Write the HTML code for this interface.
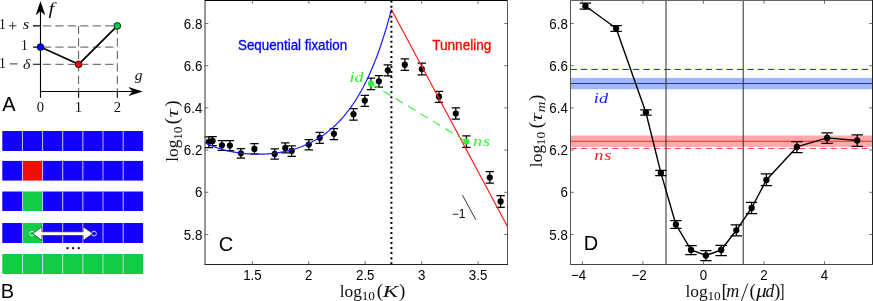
<!DOCTYPE html>
<html><head><meta charset="utf-8"><title>figure</title>
<style>html,body{margin:0;padding:0;background:#fff;}body{width:873px;height:301px;overflow:hidden;font-family:"Liberation Sans",sans-serif;}svg{display:block;will-change:transform}</style>
</head><body>
<svg width="873" height="301" viewBox="0 0 873 301">
<rect width="873" height="301" fill="#fff"/>
<path d="M42.9 25.9H117.3M42.9 47.1H117.3M42.9 64.3H117.3" stroke="#444" stroke-width="0.9" stroke-dasharray="8.2 4.25" fill="none"/>
<path d="M78.6 25.9V91.5M117.3 25.9V91.5" stroke="#444" stroke-width="0.9" stroke-dasharray="8.2 4.25" fill="none"/>
<path d="M40.5 97.8V8M40.5 91.5H134M33 25.9H40.5M33 47.1H40.5M33 64.3H40.5M78.6 91.5V97.8M117.3 91.5V97.8" stroke="#000" stroke-width="1.1" fill="none"/>
<path d="M40.5 1L45.3 15.2L40.5 11.2L35.7 15.2Z" fill="#000"/>
<path d="M142.8 91.5L128.4 96L132.4 91.5L128.4 87Z" fill="#000"/>
<path d="M40.5 47.1L78.6 64.3L117.3 25.9" stroke="#000" stroke-width="1.7" fill="none" stroke-linejoin="round"/>
<circle cx="40.5" cy="47.1" r="3.4" fill="#0000ff" stroke="#000" stroke-width="0.8"/>
<circle cx="78.6" cy="64.3" r="3.4" fill="#ff0000" stroke="#000" stroke-width="0.8"/>
<circle cx="117.3" cy="25.9" r="3.4" fill="#00cc44" stroke="#000" stroke-width="0.8"/>
<g fill="#111">
<text x="-1.00" y="28.90" font-family="Liberation Serif, serif" font-size="13.6">1</text>
<text transform="translate(22.80 28.90) scale(1.15 1)" font-family="Liberation Serif, serif" font-style="italic" font-size="14.5">s</text>
<text x="21.10" y="49.90" font-family="Liberation Serif, serif" font-size="13.6">1</text>
<text x="-1.00" y="67.90" font-family="Liberation Serif, serif" font-size="13.6">1</text>
<text transform="translate(23.04 68.50) scale(1.1 1)" font-family="Liberation Serif, serif" font-style="italic" font-size="14.5">δ</text>
<text x="40.4" y="112" text-anchor="middle" font-family="Liberation Serif, serif" font-size="14.6">0</text>
<text x="78.5" y="112" text-anchor="middle" font-family="Liberation Serif, serif" font-size="14.6">1</text>
<text x="117.4" y="112" text-anchor="middle" font-family="Liberation Serif, serif" font-size="14.6">2</text>
<text transform="translate(48.57 13.60) scale(1.3 1)" font-family="Liberation Serif, serif" font-style="italic" font-size="16">f</text>
<text x="134.78" y="79.70" font-family="Liberation Serif, serif" font-style="italic" font-size="15.5">g</text>
</g>
<path d="M8.9 25.8H16.5M12.7 22V29.6M9.9 63.9H17.6" stroke="#222" stroke-width="0.9" fill="none"/>
<text x="2.16" y="110.80" font-family="Liberation Sans, sans-serif" font-size="20" fill="#000">A</text>
<rect x="2.30" y="131" width="20.14" height="20" fill="#1400ff"/>
<rect x="22.44" y="131" width="20.14" height="20" fill="#1400ff"/>
<rect x="42.58" y="131" width="20.14" height="20" fill="#1400ff"/>
<rect x="62.72" y="131" width="20.14" height="20" fill="#1400ff"/>
<rect x="82.86" y="131" width="20.14" height="20" fill="#1400ff"/>
<rect x="103.00" y="131" width="20.14" height="20" fill="#1400ff"/>
<rect x="123.14" y="131" width="19.96" height="20" fill="#1400ff"/>
<rect x="21.94" y="131" width="1" height="20" fill="#d8d4ff" opacity="0.85"/>
<rect x="42.08" y="131" width="1" height="20" fill="#d8d4ff" opacity="0.85"/>
<rect x="62.22" y="131" width="1" height="20" fill="#d8d4ff" opacity="0.85"/>
<rect x="82.36" y="131" width="1" height="20" fill="#d8d4ff" opacity="0.85"/>
<rect x="102.50" y="131" width="1" height="20" fill="#d8d4ff" opacity="0.85"/>
<rect x="122.64" y="131" width="1" height="20" fill="#d8d4ff" opacity="0.85"/>
<rect x="2.30" y="160.9" width="20.14" height="19.69999999999999" fill="#1400ff"/>
<rect x="22.44" y="160.9" width="20.14" height="19.69999999999999" fill="#ee1100"/>
<rect x="42.58" y="160.9" width="20.14" height="19.69999999999999" fill="#1400ff"/>
<rect x="62.72" y="160.9" width="20.14" height="19.69999999999999" fill="#1400ff"/>
<rect x="82.86" y="160.9" width="20.14" height="19.69999999999999" fill="#1400ff"/>
<rect x="103.00" y="160.9" width="20.14" height="19.69999999999999" fill="#1400ff"/>
<rect x="123.14" y="160.9" width="19.96" height="19.69999999999999" fill="#1400ff"/>
<rect x="21.94" y="160.9" width="1" height="19.69999999999999" fill="#d8d4ff" opacity="0.85"/>
<rect x="42.08" y="160.9" width="1" height="19.69999999999999" fill="#d8d4ff" opacity="0.85"/>
<rect x="62.22" y="160.9" width="1" height="19.69999999999999" fill="#d8d4ff" opacity="0.85"/>
<rect x="82.36" y="160.9" width="1" height="19.69999999999999" fill="#d8d4ff" opacity="0.85"/>
<rect x="102.50" y="160.9" width="1" height="19.69999999999999" fill="#d8d4ff" opacity="0.85"/>
<rect x="122.64" y="160.9" width="1" height="19.69999999999999" fill="#d8d4ff" opacity="0.85"/>
<rect x="2.30" y="191.5" width="20.14" height="19.5" fill="#1400ff"/>
<rect x="22.44" y="191.5" width="20.14" height="19.5" fill="#11cc44"/>
<rect x="42.58" y="191.5" width="20.14" height="19.5" fill="#1400ff"/>
<rect x="62.72" y="191.5" width="20.14" height="19.5" fill="#1400ff"/>
<rect x="82.86" y="191.5" width="20.14" height="19.5" fill="#1400ff"/>
<rect x="103.00" y="191.5" width="20.14" height="19.5" fill="#1400ff"/>
<rect x="123.14" y="191.5" width="19.96" height="19.5" fill="#1400ff"/>
<rect x="21.94" y="191.5" width="1" height="19.5" fill="#d8d4ff" opacity="0.85"/>
<rect x="42.08" y="191.5" width="1" height="19.5" fill="#d8d4ff" opacity="0.85"/>
<rect x="62.22" y="191.5" width="1" height="19.5" fill="#d8d4ff" opacity="0.85"/>
<rect x="82.36" y="191.5" width="1" height="19.5" fill="#d8d4ff" opacity="0.85"/>
<rect x="102.50" y="191.5" width="1" height="19.5" fill="#d8d4ff" opacity="0.85"/>
<rect x="122.64" y="191.5" width="1" height="19.5" fill="#d8d4ff" opacity="0.85"/>
<rect x="2.30" y="223" width="20.14" height="20" fill="#1400ff"/>
<rect x="22.44" y="223" width="20.14" height="20" fill="#11cc44"/>
<rect x="42.58" y="223" width="20.14" height="20" fill="#1400ff"/>
<rect x="62.72" y="223" width="20.14" height="20" fill="#1400ff"/>
<rect x="82.86" y="223" width="20.14" height="20" fill="#1400ff"/>
<rect x="103.00" y="223" width="20.14" height="20" fill="#1400ff"/>
<rect x="123.14" y="223" width="19.96" height="20" fill="#1400ff"/>
<rect x="21.94" y="223" width="1" height="20" fill="#d8d4ff" opacity="0.85"/>
<rect x="42.08" y="223" width="1" height="20" fill="#d8d4ff" opacity="0.85"/>
<rect x="62.22" y="223" width="1" height="20" fill="#d8d4ff" opacity="0.85"/>
<rect x="82.36" y="223" width="1" height="20" fill="#d8d4ff" opacity="0.85"/>
<rect x="102.50" y="223" width="1" height="20" fill="#d8d4ff" opacity="0.85"/>
<rect x="122.64" y="223" width="1" height="20" fill="#d8d4ff" opacity="0.85"/>
<rect x="2.30" y="254" width="20.14" height="20" fill="#11cc44"/>
<rect x="22.44" y="254" width="20.14" height="20" fill="#11cc44"/>
<rect x="42.58" y="254" width="20.14" height="20" fill="#11cc44"/>
<rect x="62.72" y="254" width="20.14" height="20" fill="#11cc44"/>
<rect x="82.86" y="254" width="20.14" height="20" fill="#11cc44"/>
<rect x="103.00" y="254" width="20.14" height="20" fill="#11cc44"/>
<rect x="123.14" y="254" width="19.96" height="20" fill="#11cc44"/>
<rect x="21.94" y="254" width="1" height="20" fill="#d8d4ff" opacity="0.85"/>
<rect x="42.08" y="254" width="1" height="20" fill="#d8d4ff" opacity="0.85"/>
<rect x="62.22" y="254" width="1" height="20" fill="#d8d4ff" opacity="0.85"/>
<rect x="82.36" y="254" width="1" height="20" fill="#d8d4ff" opacity="0.85"/>
<rect x="102.50" y="254" width="1" height="20" fill="#d8d4ff" opacity="0.85"/>
<rect x="122.64" y="254" width="1" height="20" fill="#d8d4ff" opacity="0.85"/>
<circle cx="32.0" cy="233.6" r="2.3" fill="none" stroke="#e8e8ff" stroke-width="0.9"/>
<circle cx="94.0" cy="233.6" r="2.4" fill="none" stroke="#e8e8ff" stroke-width="0.9"/>
<path d="M32.8 233.6L41.9 226.8V231.8H83.1V226.8L92.8 233.6L83.1 240.6V235.6H41.9V240.6Z" fill="#fff" stroke="#222" stroke-width="0.7" stroke-linejoin="miter"/>
<rect x="66.5" y="247.2" width="2" height="2" fill="#000"/>
<rect x="72.1" y="247.2" width="2" height="2" fill="#000"/>
<rect x="77.7" y="247.2" width="2" height="2" fill="#000"/>
<text x="0.76" y="297.80" font-family="Liberation Sans, sans-serif" font-size="20" fill="#000">B</text>
<clipPath id="cc"><rect x="205.0" y="0.5" width="302.5" height="264.0"/></clipPath>
<path d="M208.9 136.8V147.6M204.7 136.8H213.1M204.7 147.6H213.1" stroke="#000" stroke-width="1.25" fill="none"/><circle cx="208.9" cy="141.8" r="3.1" fill="#000"/>
<path d="M212.6 136.7V145.7M208.4 136.7H216.8M208.4 145.7H216.8" stroke="#000" stroke-width="1.25" fill="none"/><circle cx="212.6" cy="140.9" r="3.1" fill="#000"/>
<path d="M221.9 140.5V150.3M217.7 140.5H226.1M217.7 150.3H226.1" stroke="#000" stroke-width="1.25" fill="none"/><circle cx="221.9" cy="145.3" r="3.1" fill="#000"/>
<path d="M229.9 140.5V150.5M225.7 140.5H234.1M225.7 150.5H234.1" stroke="#000" stroke-width="1.25" fill="none"/><circle cx="229.9" cy="145.5" r="3.1" fill="#000"/>
<path d="M240.9 148.5V158.0M236.7 148.5H245.1M236.7 158.0H245.1" stroke="#000" stroke-width="1.25" fill="none"/><circle cx="240.9" cy="153.3" r="3.1" fill="#000"/>
<path d="M254.4 143.7V153.9M250.2 143.7H258.6M250.2 153.9H258.6" stroke="#000" stroke-width="1.25" fill="none"/><circle cx="254.4" cy="148.9" r="3.1" fill="#000"/>
<path d="M274.7 148.9V159.1M270.5 148.9H278.9M270.5 159.1H278.9" stroke="#000" stroke-width="1.25" fill="none"/><circle cx="274.7" cy="153.9" r="3.1" fill="#000"/>
<path d="M285.3 142.9V152.9M281.1 142.9H289.5M281.1 152.9H289.5" stroke="#000" stroke-width="1.25" fill="none"/><circle cx="285.3" cy="147.9" r="3.1" fill="#000"/>
<path d="M291.7 145.9V156.3M287.5 145.9H295.9M287.5 156.3H295.9" stroke="#000" stroke-width="1.25" fill="none"/><circle cx="291.7" cy="150.9" r="3.1" fill="#000"/>
<path d="M308.8 139.7V149.9M304.6 139.7H313.0M304.6 149.9H313.0" stroke="#000" stroke-width="1.25" fill="none"/><circle cx="308.8" cy="144.6" r="3.1" fill="#000"/>
<path d="M319.7 132.4V143.3M315.5 132.4H323.9M315.5 143.3H323.9" stroke="#000" stroke-width="1.25" fill="none"/><circle cx="319.7" cy="137.8" r="3.1" fill="#000"/>
<path d="M333.9 128.5V139.6M329.7 128.5H338.1M329.7 139.6H338.1" stroke="#000" stroke-width="1.25" fill="none"/><circle cx="333.9" cy="133.8" r="3.1" fill="#000"/>
<path d="M353.5 108.5V120.0M349.3 108.5H357.7M349.3 120.0H357.7" stroke="#000" stroke-width="1.25" fill="none"/><circle cx="353.5" cy="114.2" r="3.1" fill="#000"/>
<path d="M364.8 95.3V106.4M360.6 95.3H369.0M360.6 106.4H369.0" stroke="#000" stroke-width="1.25" fill="none"/><circle cx="364.8" cy="100.6" r="3.1" fill="#000"/>
<path d="M378.9 75.5V87.0M374.7 75.5H383.1M374.7 87.0H383.1" stroke="#000" stroke-width="1.25" fill="none"/><circle cx="378.9" cy="81.3" r="3.1" fill="#000"/>
<path d="M387.8 64.9V75.9M383.6 64.9H392.0M383.6 75.9H392.0" stroke="#000" stroke-width="1.25" fill="none"/><circle cx="387.8" cy="70.3" r="3.1" fill="#000"/>
<path d="M404.8 58.9V70.4M400.6 58.9H409.0M400.6 70.4H409.0" stroke="#000" stroke-width="1.25" fill="none"/><circle cx="404.8" cy="64.7" r="3.1" fill="#000"/>
<path d="M421.8 63.2V74.9M417.6 63.2H426.0M417.6 74.9H426.0" stroke="#000" stroke-width="1.25" fill="none"/><circle cx="421.8" cy="69.0" r="3.1" fill="#000"/>
<path d="M439.0 91.3V102.3M434.8 91.3H443.2M434.8 102.3H443.2" stroke="#000" stroke-width="1.25" fill="none"/><circle cx="439.0" cy="96.7" r="3.1" fill="#000"/>
<path d="M455.8 107.8V119.1M451.6 107.8H460.0M451.6 119.1H460.0" stroke="#000" stroke-width="1.25" fill="none"/><circle cx="455.8" cy="113.5" r="3.1" fill="#000"/>
<path d="M489.8 171.5V183.0M485.6 171.5H494.0M485.6 183.0H494.0" stroke="#000" stroke-width="1.25" fill="none"/><circle cx="489.8" cy="177.5" r="3.1" fill="#000"/>
<path d="M500.6 195.5V207.4M496.4 195.5H504.8M496.4 207.4H504.8" stroke="#000" stroke-width="1.25" fill="none"/><circle cx="500.6" cy="201.4" r="3.1" fill="#000"/>
<path d="M371.0 78.1V89.6M366.8 78.1H375.2M366.8 89.6H375.2" stroke="#000" stroke-width="1.25" fill="none"/><circle cx="371.0" cy="83.6" r="3.1" fill="#33ee33"/>
<path d="M466.4 135.9V147.3M462.2 135.9H470.6M462.2 147.3H470.6" stroke="#000" stroke-width="1.25" fill="none"/><circle cx="466.4" cy="141.5" r="3.1" fill="#33ee33"/>
<g clip-path="url(#cc)">
<path d="M203.9 141.9L204.8 142.4L205.8 142.9L206.7 143.4L207.6 143.8L208.6 144.3L209.5 144.7L210.5 145.1L211.4 145.5L212.4 145.9L213.3 146.3L214.2 146.7L215.2 147.1L216.1 147.4L217.1 147.7L218.0 148.1L219.0 148.4L219.9 148.7L220.8 149.0L221.8 149.3L222.7 149.6L223.7 149.8L224.6 150.1L225.6 150.3L226.5 150.5L227.4 150.8L228.4 151.0L229.3 151.2L230.3 151.4L231.2 151.6L232.1 151.7L233.1 151.9L234.0 152.1L235.0 152.2L235.9 152.4L236.9 152.5L237.8 152.7L238.7 152.8L239.7 153.0L240.6 153.1L241.6 153.2L242.5 153.3L243.5 153.4L244.4 153.5L245.3 153.6L246.3 153.7L247.2 153.8L248.2 153.8L249.1 153.9L250.1 154.0L251.0 154.0L251.9 154.1L252.9 154.1L253.8 154.1L254.8 154.2L255.7 154.2L256.7 154.2L257.6 154.2L258.5 154.2L259.5 154.2L260.4 154.2L261.4 154.2L262.3 154.2L263.3 154.1L264.2 154.1L265.1 154.1L266.1 154.0L267.0 153.9L268.0 153.9L268.9 153.8L269.8 153.7L270.8 153.6L271.7 153.6L272.7 153.5L273.6 153.4L274.6 153.2L275.5 153.1L276.4 153.0L277.4 152.9L278.3 152.7L279.3 152.6L280.2 152.4L281.2 152.2L282.1 152.1L283.0 151.9L284.0 151.7L284.9 151.5L285.9 151.3L286.8 151.1L287.8 150.9L288.7 150.6L289.6 150.4L290.6 150.2L291.5 149.9L292.5 149.6L293.4 149.4L294.4 149.1L295.3 148.8L296.2 148.5L297.2 148.2L298.1 147.9L299.1 147.5L300.0 147.2L301.0 146.8L301.9 146.5L302.8 146.1L303.8 145.7L304.7 145.3L305.7 144.9L306.6 144.5L307.5 144.1L308.5 143.7L309.4 143.2L310.4 142.8L311.3 142.3L312.3 141.8L313.2 141.3L314.1 140.8L315.1 140.3L316.0 139.7L317.0 139.2L317.9 138.6L318.9 138.0L319.8 137.4L320.7 136.8L321.7 136.2L322.6 135.5L323.6 134.9L324.5 134.2L325.5 133.5L326.4 132.8L327.3 132.1L328.3 131.4L329.2 130.6L330.2 129.8L331.1 129.0L332.1 128.2L333.0 127.4L333.9 126.5L334.9 125.7L335.8 124.8L336.8 123.8L337.7 122.9L338.7 121.9L339.6 121.0L340.5 120.0L341.5 118.9L342.4 117.9L343.4 116.8L344.3 115.7L345.2 114.6L346.2 113.4L347.1 112.2L348.1 111.0L349.0 109.8L350.0 108.5L350.9 107.2L351.8 105.9L352.8 104.5L353.7 103.1L354.7 101.7L355.6 100.2L356.6 98.7L357.5 97.2L358.4 95.6L359.4 94.0L360.3 92.4L361.3 90.7L362.2 89.0L363.2 87.2L364.1 85.4L365.0 83.6L366.0 81.7L366.9 79.7L367.9 77.8L368.8 75.7L369.8 73.7L370.7 71.5L371.6 69.4L372.6 67.1L373.5 64.9L374.5 62.5L375.4 60.1L376.4 57.7L377.3 55.2L378.2 52.6L379.2 50.0L380.1 47.3L381.1 44.5L382.0 41.7L382.9 38.8L383.9 35.9L384.8 32.8L385.8 29.7L386.7 26.6L387.7 23.3L388.6 20.0L389.5 16.6L390.5 13.1L391.4 9.5" stroke="#1a1aff" stroke-width="1.2" fill="none"/>
<path d="M391.4 9.5L509.5 230.3" stroke="#ff1a1a" stroke-width="1.2" fill="none"/>
<path d="M370.9 83.5L466.4 141.5" stroke="#33ee33" stroke-width="1.1" stroke-dasharray="8.5 6" fill="none"/>
<path d="M391.4 0.6V264.5" stroke="#000" stroke-width="2" stroke-dasharray="2 3.03" fill="none"/>
</g>
<path d="M205.0 0V264.5" stroke="#303030" stroke-width="1" fill="none"/>
<path d="M205.0 0.5H508.0" stroke="#000" stroke-width="1" fill="none"/>
<path d="M507.5 0V264.5" stroke="#5a5a5a" stroke-width="1" fill="none"/>
<path d="M204.5 264.5H508.0" stroke="#222" stroke-width="1" fill="none"/>
<path d="M252.4 264.5v-3.3M252.4 0.5v3.3M308.8 264.5v-3.3M308.8 0.5v3.3M365.2 264.5v-3.3M365.2 0.5v3.3M421.7 264.5v-3.3M421.7 0.5v3.3M478.1 264.5v-3.3M478.1 0.5v3.3M205.0 23.5h3.3M507.5 23.5h-3.3M205.0 65.7h3.3M507.5 65.7h-3.3M205.0 107.9h3.3M507.5 107.9h-3.3M205.0 150.1h3.3M507.5 150.1h-3.3M205.0 192.3h3.3M507.5 192.3h-3.3M205.0 234.5h3.3M507.5 234.5h-3.3" stroke="#444" stroke-width="0.75" fill="none"/>
<g font-family="Liberation Sans, sans-serif" font-size="13.3" fill="#000">
<text transform="translate(252.40 279.70) scale(1 1.085)" text-anchor="middle" font-family="Liberation Sans, sans-serif" font-size="13.3" fill="#000">1.5</text>
<text transform="translate(308.82 279.70) scale(1 1.085)" text-anchor="middle" font-family="Liberation Sans, sans-serif" font-size="13.3" fill="#000">2</text>
<text transform="translate(365.24 279.70) scale(1 1.085)" text-anchor="middle" font-family="Liberation Sans, sans-serif" font-size="13.3" fill="#000">2.5</text>
<text transform="translate(421.66 279.70) scale(1 1.085)" text-anchor="middle" font-family="Liberation Sans, sans-serif" font-size="13.3" fill="#000">3</text>
<text transform="translate(478.08 279.70) scale(1 1.085)" text-anchor="middle" font-family="Liberation Sans, sans-serif" font-size="13.3" fill="#000">3.5</text>
<text transform="translate(202.30 28.50) scale(1 1.085)" text-anchor="end" font-family="Liberation Sans, sans-serif" font-size="13.3" fill="#000">6.8</text>
<text transform="translate(202.30 70.70) scale(1 1.085)" text-anchor="end" font-family="Liberation Sans, sans-serif" font-size="13.3" fill="#000">6.6</text>
<text transform="translate(202.30 112.90) scale(1 1.085)" text-anchor="end" font-family="Liberation Sans, sans-serif" font-size="13.3" fill="#000">6.4</text>
<text transform="translate(202.30 155.10) scale(1 1.085)" text-anchor="end" font-family="Liberation Sans, sans-serif" font-size="13.3" fill="#000">6.2</text>
<text transform="translate(202.30 197.30) scale(1 1.085)" text-anchor="end" font-family="Liberation Sans, sans-serif" font-size="13.3" fill="#000">6</text>
<text transform="translate(202.30 239.50) scale(1 1.085)" text-anchor="end" font-family="Liberation Sans, sans-serif" font-size="13.3" fill="#000">5.8</text>
<text stroke="#0000ff" stroke-width="0.3" transform="translate(238.00 50.00) scale(1 1.06)" text-anchor="start" font-family="Liberation Sans, sans-serif" font-size="13.35" fill="#0000ff">Sequential fixation</text>
<text stroke="#ff0000" stroke-width="0.3" transform="translate(432.20 50.00) scale(1 1.06)" text-anchor="start" font-family="Liberation Sans, sans-serif" font-size="13.6" fill="#ff0000">Tunneling</text>
<text x="451.8" y="217.5" font-size="12">−1</text>
</g>
<text x="218.78" y="250.60" font-family="Liberation Sans, sans-serif" font-size="20" fill="#000">C</text>
<path d="M462.3 194.9L475.8 219.7" stroke="#000" stroke-width="0.8" fill="none"/>
<text transform="translate(349.39 81.90) scale(1.18 1)" font-family="Liberation Serif, serif" font-style="italic" font-size="15.3" fill="#33ee33">id</text>
<text transform="translate(473.04 145.50) scale(1.2 1)" font-family="Liberation Serif, serif" font-style="italic" font-size="15.3" fill="#33ee33">n</text>
<text transform="translate(483.08 145.50) scale(1.2 1)" font-family="Liberation Serif, serif" font-style="italic" font-size="15.3" fill="#33ee33">s</text>
<g fill="#111" transform="translate(340 296.6)"><text x="-0.35" y="0.00" font-family="Liberation Serif, serif" font-size="17.4">log</text><text x="21.63" y="3.60" font-family="Liberation Serif, serif" font-size="13.3">10</text><text x="36.76" y="0.20" font-family="Liberation Serif, serif" font-size="19">(</text><text transform="translate(42.68 0.00) scale(1.31 1)" font-family="Liberation Serif, serif" font-style="italic" font-size="17.6">K</text><text x="58.99" y="0.20" font-family="Liberation Serif, serif" font-size="19">)</text></g>
<g fill="#111" transform="translate(177.9 161.4) rotate(-90)"><text x="-0.35" y="0.00" font-family="Liberation Serif, serif" font-size="17.4">log</text><text x="21.63" y="3.60" font-family="Liberation Serif, serif" font-size="13.3">10</text><text x="37.16" y="0.20" font-family="Liberation Serif, serif" font-size="19">(</text><text transform="translate(43.78 0.00) scale(1.35 1)" font-family="Liberation Serif, serif" font-style="italic" font-size="17.5">τ</text><text x="54.59" y="0.20" font-family="Liberation Serif, serif" font-size="19">)</text></g>
<rect x="570.5" y="77.9" width="302.0" height="11.4" fill="#a0b8ff"/>
<path d="M570.5 83.4H872.5" stroke="#2222ff" stroke-width="1.05"/>
<path d="M570.5 69.4H872.5" stroke="#1a1aff" stroke-width="1" stroke-dasharray="6.4 4"/>
<rect x="570.5" y="135.5" width="302.0" height="11.4" fill="#ffaaaa"/>
<path d="M570.5 141.3H872.5" stroke="#ff2222" stroke-width="1.05"/>
<path d="M570.5 148.5H872.5" stroke="#ff4444" stroke-width="0.95" stroke-dasharray="6.4 4"/>
<path d="M666.0 0.5V264.5M743.2 0.5V264.5" stroke="#2a2a2a" stroke-width="1" fill="none"/>
<path d="M585.4 6L616.1 28.3L645.9 112.5L660.9 172.9L675.9 224.5L691.0 249.9L705.9 255.5L721.2 250.0L736.3 230.3L751.6 208L766.4 179.9L796.9 146.9L827.1 137.9L857.2 140.5" stroke="#000" stroke-width="1.4" fill="none" stroke-linejoin="round"/>
<path d="M585.4 3.0V9.0M579.7 3.0H591.1M579.7 9.0H591.1" stroke="#000" stroke-width="1.25" fill="none"/><circle cx="585.4" cy="6.0" r="3.15" fill="#000"/>
<path d="M616.1 25.5V31.3M610.4 25.5H621.8M610.4 31.3H621.8" stroke="#000" stroke-width="1.25" fill="none"/><circle cx="616.1" cy="28.3" r="3.15" fill="#000"/>
<path d="M645.9 109.8V115.1M640.2 109.8H651.6M640.2 115.1H651.6" stroke="#000" stroke-width="1.25" fill="none"/><circle cx="645.9" cy="112.5" r="3.15" fill="#000"/>
<path d="M660.9 170.3V175.5M655.2 170.3H666.6M655.2 175.5H666.6" stroke="#000" stroke-width="1.25" fill="none"/><circle cx="660.9" cy="172.9" r="3.15" fill="#000"/>
<path d="M675.9 220.5V228.3M670.2 220.5H681.6M670.2 228.3H681.6" stroke="#000" stroke-width="1.25" fill="none"/><circle cx="675.9" cy="224.5" r="3.15" fill="#000"/>
<path d="M691.0 245.6V254.6M685.3 245.6H696.7M685.3 254.6H696.7" stroke="#000" stroke-width="1.25" fill="none"/><circle cx="691.0" cy="249.9" r="3.15" fill="#000"/>
<path d="M705.9 250.5V260.6M700.2 250.5H711.6M700.2 260.6H711.6" stroke="#000" stroke-width="1.25" fill="none"/><circle cx="705.9" cy="255.5" r="3.15" fill="#000"/>
<path d="M721.2 245.3V255.6M715.5 245.3H726.9M715.5 255.6H726.9" stroke="#000" stroke-width="1.25" fill="none"/><circle cx="721.2" cy="250.0" r="3.15" fill="#000"/>
<path d="M736.3 224.9V235.9M730.6 224.9H742.0M730.6 235.9H742.0" stroke="#000" stroke-width="1.25" fill="none"/><circle cx="736.3" cy="230.3" r="3.15" fill="#000"/>
<path d="M751.6 202.4V213.6M745.9 202.4H757.3M745.9 213.6H757.3" stroke="#000" stroke-width="1.25" fill="none"/><circle cx="751.6" cy="208.0" r="3.15" fill="#000"/>
<path d="M766.4 173.9V185.5M760.7 173.9H772.1M760.7 185.5H772.1" stroke="#000" stroke-width="1.25" fill="none"/><circle cx="766.4" cy="179.9" r="3.15" fill="#000"/>
<path d="M796.9 141.5V152.5M791.2 141.5H802.6M791.2 152.5H802.6" stroke="#000" stroke-width="1.25" fill="none"/><circle cx="796.9" cy="146.9" r="3.15" fill="#000"/>
<path d="M827.1 132.9V143.3M821.4 132.9H832.8M821.4 143.3H832.8" stroke="#000" stroke-width="1.25" fill="none"/><circle cx="827.1" cy="137.9" r="3.15" fill="#000"/>
<path d="M857.2 134.9V146.3M851.5 134.9H862.9M851.5 146.3H862.9" stroke="#000" stroke-width="1.25" fill="none"/><circle cx="857.2" cy="140.5" r="3.15" fill="#000"/>
<path d="M570.5 0V264.5" stroke="#555" stroke-width="1" fill="none"/>
<path d="M570.0 0.5H873.0" stroke="#666" stroke-width="1" fill="none"/>
<path d="M872.5 0V264.5" stroke="#222" stroke-width="1" fill="none"/>
<path d="M570.0 264.5H873.0" stroke="#444" stroke-width="1" fill="none"/>
<path d="M582.4 264.5v-3.3M582.4 0.5v3.3M642.9 264.5v-3.3M642.9 0.5v3.3M703.4 264.5v-3.3M703.4 0.5v3.3M764.0 264.5v-3.3M764.0 0.5v3.3M824.5 264.5v-3.3M824.5 0.5v3.3M570.5 23.5h3.3M872.5 23.5h-3.3M570.5 65.7h3.3M872.5 65.7h-3.3M570.5 107.9h3.3M872.5 107.9h-3.3M570.5 150.1h3.3M872.5 150.1h-3.3M570.5 192.3h3.3M872.5 192.3h-3.3M570.5 234.5h3.3M872.5 234.5h-3.3" stroke="#444" stroke-width="0.75" fill="none"/>
<g font-family="Liberation Sans, sans-serif" font-size="13.3" fill="#000">
<text transform="translate(586.10 279.70) scale(1 1.085)" text-anchor="end" font-family="Liberation Sans, sans-serif" font-size="13.3" fill="#000">−4</text>
<text transform="translate(646.62 279.70) scale(1 1.085)" text-anchor="end" font-family="Liberation Sans, sans-serif" font-size="13.3" fill="#000">−2</text>
<text transform="translate(703.44 279.70) scale(1 1.085)" text-anchor="middle" font-family="Liberation Sans, sans-serif" font-size="13.3" fill="#000">0</text>
<text transform="translate(763.96 279.70) scale(1 1.085)" text-anchor="middle" font-family="Liberation Sans, sans-serif" font-size="13.3" fill="#000">2</text>
<text transform="translate(824.48 279.70) scale(1 1.085)" text-anchor="middle" font-family="Liberation Sans, sans-serif" font-size="13.3" fill="#000">4</text>
<text transform="translate(567.80 28.50) scale(1 1.085)" text-anchor="end" font-family="Liberation Sans, sans-serif" font-size="13.3" fill="#000">6.8</text>
<text transform="translate(567.80 70.70) scale(1 1.085)" text-anchor="end" font-family="Liberation Sans, sans-serif" font-size="13.3" fill="#000">6.6</text>
<text transform="translate(567.80 112.90) scale(1 1.085)" text-anchor="end" font-family="Liberation Sans, sans-serif" font-size="13.3" fill="#000">6.4</text>
<text transform="translate(567.80 155.10) scale(1 1.085)" text-anchor="end" font-family="Liberation Sans, sans-serif" font-size="13.3" fill="#000">6.2</text>
<text transform="translate(567.80 197.30) scale(1 1.085)" text-anchor="end" font-family="Liberation Sans, sans-serif" font-size="13.3" fill="#000">6</text>
<text transform="translate(567.80 239.50) scale(1 1.085)" text-anchor="end" font-family="Liberation Sans, sans-serif" font-size="13.3" fill="#000">5.8</text>
</g>
<text x="583.86" y="250.30" font-family="Liberation Sans, sans-serif" font-size="20" fill="#000">D</text>
<text transform="translate(593.87 102.70) scale(1.2 1)" font-family="Liberation Serif, serif" font-style="italic" font-size="15.3" fill="#1a1aff">id</text>
<text transform="translate(594.24 160.30) scale(1.2 1)" font-family="Liberation Serif, serif" font-style="italic" font-size="15.3" fill="#ff1a1a">n</text>
<text transform="translate(604.18 160.30) scale(1.2 1)" font-family="Liberation Serif, serif" font-style="italic" font-size="15.3" fill="#ff1a1a">s</text>
<g fill="#111" transform="translate(685.8 296.6)"><text x="-0.35" y="0.00" font-family="Liberation Serif, serif" font-size="17.4">log</text><text x="21.63" y="3.60" font-family="Liberation Serif, serif" font-size="13.3">10</text><text x="35.69" y="0.20" font-family="Liberation Serif, serif" font-size="19">[</text><text x="40.55" y="0.00" font-family="Liberation Serif, serif" font-style="italic" font-size="18">m</text><path d="M55.6 4.3L61.9 -13" stroke="#111" stroke-width="0.95" fill="none"/><text x="63.66" y="0.20" font-family="Liberation Serif, serif" font-size="19">(</text><text transform="translate(70.42 0.00) scale(1.16 1)" font-family="Liberation Serif, serif" font-style="italic" font-size="18">μ</text><text transform="translate(79.78 0.00) scale(0.97 1)" font-family="Liberation Serif, serif" font-style="italic" font-size="18">d</text><text x="88.19" y="0.20" font-family="Liberation Serif, serif" font-size="19">)</text><text transform="translate(93.65 0.20) scale(0.8 1)" font-family="Liberation Serif, serif" font-size="19">]</text></g>
<g fill="#111" transform="translate(541.7 166.8) rotate(-90)"><text x="-0.35" y="0.00" font-family="Liberation Serif, serif" font-size="17.4">log</text><text x="21.63" y="3.60" font-family="Liberation Serif, serif" font-size="13.3">10</text><text x="38.56" y="0.20" font-family="Liberation Serif, serif" font-size="19">(</text><text transform="translate(45.08 0.00) scale(1.35 1)" font-family="Liberation Serif, serif" font-style="italic" font-size="17.5">τ</text><text transform="translate(54.47 3.20) scale(1.12 1)" font-family="Liberation Serif, serif" font-style="italic" font-size="13.2">m</text><text x="65.79" y="0.20" font-family="Liberation Serif, serif" font-size="19">)</text></g>
</svg>
</body></html>
